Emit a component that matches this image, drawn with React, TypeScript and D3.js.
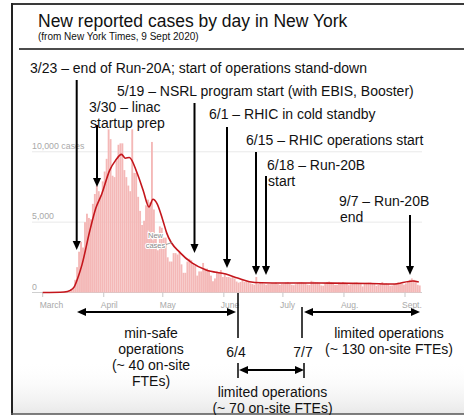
import React from "react";
import * as d3 from "d3";

const W = 464;
const H = 415;

// ---- Data ----
const startDate = "2020-03-01";
const marchCases = [0, 1, 1, 9, 11, 22, 33, 13, 36, 32, 43, 112, 95, 110, 198, 299, 900, 1800, 2900, 3600, 3200, 5000, 5600, 5300, 5200, 6300, 7000, 7600, 7200, 6900, 7900];
const aprilCases = [8600, 9500, 11600, 10900, 8300, 8200, 9400, 10500, 10600, 10600, 8700, 8200, 7600, 7200, 11600, 8500, 8500, 6800, 5800, 4800, 5100, 6200, 6600, 6400, 10700, 5900, 3900, 3000, 4700, 4600];
const mayCases = [3900, 3900, 2500, 2200, 2200, 2800, 2800, 2700, 2900, 2000, 1400, 1400, 2200, 2400, 2300, 2000, 1900, 1200, 1500, 1500, 2100, 1700, 1700, 1600, 1200, 800, 1000, 1500, 1400, 1600, 1100];
const juneCases = [1300, 1100, 1100, 1050, 1100, 1000, 780, 700, 750, 900, 750, 800, 800, 650, 600, 550, 1100, 600, 700, 650, 600, 550, 600, 600, 650, 650, 700, 600, 550, 600];
const julyCases = [620, 700, 750, 650, 550, 520, 590, 700, 730, 750, 700, 680, 560, 530, 830, 770, 750, 740, 700, 500, 480, 640, 750, 780, 700, 650, 540, 540, 700, 650, 750];
const augCases = [700, 680, 520, 580, 640, 700, 720, 680, 600, 430, 600, 690, 710, 720, 680, 600, 470, 540, 620, 750, 630, 660, 610, 480, 500, 600, 650, 720, 630, 620, 560];
const septCases = [650, 800, 900, 1000, 900, 800, 550, 500];

const avgDates = ["2020-03-01", "2020-03-12", "2020-03-15", "2020-03-17", "2020-03-19", "2020-03-21", "2020-03-25", "2020-03-28", "2020-03-31", "2020-04-04", "2020-04-07", "2020-04-10", "2020-04-12", "2020-04-14", "2020-04-18", "2020-04-21", "2020-04-24", "2020-04-26", "2020-04-28", "2020-05-01", "2020-05-03", "2020-05-10", "2020-05-16", "2020-05-23", "2020-06-02", "2020-06-08", "2020-06-14", "2020-06-20", "2020-07-01", "2020-07-20", "2020-08-14", "2020-08-26", "2020-09-05", "2020-09-08"];
const avgValues = [0, 40, 150, 400, 1100, 2000, 4430, 6000, 7000, 8680, 9390, 9820, 9540, 9600, 8470, 7270, 6080, 6630, 6340, 5140, 4220, 2800, 2090, 1600, 1310, 1030, 770, 690, 670, 670, 640, 600, 820, 750];

const monthTicks = ["2020-03-01", "2020-04-01", "2020-05-01", "2020-06-01", "2020-07-01", "2020-08-01", "2020-09-01"];
const monthLabels = ["March", "April", "May", "June", "July", "Aug.", "Sept."];
const yTicks = [0, 5000, 10000];
const yTickLabels = ["0", "5,000", "10,000 cases"];

// ---- Annotation layout ----
const FONT = "'Liberation Sans', Arial, Helvetica, sans-serif";
const topNotes = [
  { x: 30, y: 73, lines: ["3/23 \u2013 end of Run-20A; start of operations stand-down"] },
  { x: 117, y: 96, lines: ["5/19 \u2013 NSRL program start (with EBIS, Booster)"] },
  { x: 89, y: 112, lines: ["3/30 \u2013 linac", "startup prep"] },
  { x: 209, y: 119, lines: ["6/1 \u2013 RHIC in cold standby"] },
  { x: 246, y: 145, lines: ["6/15 \u2013 RHIC operations start"] },
  { x: 267, y: 170, lines: ["6/18 \u2013 Run-20B", "start"] },
  { x: 339, y: 206, lines: ["9/7 \u2013 Run-20B", "end"] },
];
const vArrows = [
  { x: 76.7, y1: 80, y2: 250 },
  { x: 97, y1: 125, y2: 187 },
  { x: 194.5, y1: 103, y2: 253 },
  { x: 227, y1: 127, y2: 268 },
  { x: 256, y1: 152, y2: 275 },
  { x: 266, y1: 176, y2: 275 },
  { x: 410, y1: 215, y2: 275 },
];
const hArrows = [
  { x1: 77, x2: 236, y: 312 },
  { x1: 239, x2: 304, y: 370 },
  { x1: 304, x2: 420, y: 312 },
];
const separators = [
  { x: 238, y1: 293, y2: 338 },
  { x: 238, y1: 363, y2: 378 },
  { x: 304, y1: 363, y2: 378 },
  { x: 302, y1: 307, y2: 338 },
];
const bottomNotes = [
  { x: 151, y: 337.5, lines: ["min-safe", "operations", "(~ 40 on-site", "FTEs)"] },
  { x: 389, y: 337.5, lines: ["limited operations", "(~ 130 on-site FTEs)"] },
  { x: 236, y: 356.5, lines: ["6/4"] },
  { x: 303, y: 356.5, lines: ["7/7"] },
  { x: 272.5, y: 397, lines: ["limited operations", "(~ 70 on-site FTEs)"] },
];

const parse = d3.utcParse("%Y-%m-%d");

export default function App() {
  const x = d3.scaleUtc().domain([parse("2020-03-01")!, parse("2020-09-01")!]).range([42.7, 405]);
  const y = d3.scaleLinear().domain([0, 10000]).range([292.5, 151.8]);
  const start = parse(startDate)!;
  const daily = [...marchCases, ...aprilCases, ...mayCases, ...juneCases, ...julyCases, ...augCases, ...septCases];
  const bars = daily.map((v, i) => {
    const d0 = d3.utcDay.offset(start, i);
    const d1 = d3.utcDay.offset(start, i + 1);
    return { x0: x(d0), x1: x(d1), v };
  });
  const avg = avgDates.map((d, i) => [x(parse(d)!), y(avgValues[i])] as [number, number]);
  const linePath = d3.line().curve(d3.curveMonotoneX)(avg) || "";

  const head = 4;
  const headLen = 9;

  return (
    <svg width={W} height={H} viewBox={`0 0 ${W} ${H}`} style={{ position: "fixed", left: 0, top: 0, background: "#fff" }} fontFamily={FONT}>
      <defs>
        <linearGradient id="smudge" x1="0" y1="0" x2="0" y2="1">
          <stop offset="0" stopColor="#ffffff" stopOpacity="0" />
          <stop offset="1" stopColor="#e6e6e6" stopOpacity="0.9" />
        </linearGradient>
      </defs>
      <rect x={0} y={0} width={W} height={H} fill="#fff" />
      <rect x={12} y={360} width={W - 12} height={54} fill="url(#smudge)" />

      {/* frame */}
      <line x1={11} x2={W} y1={4} y2={4} stroke="#3a3a3a" strokeWidth={2} />
      <line x1={12} x2={12} y1={3} y2={H} stroke="#222" strokeWidth={2} />
      <line x1={11} x2={W} y1={414} y2={414} stroke="#555" strokeWidth={1.5} />
      <line x1={19} x2={W} y1={49} y2={49} stroke="#111" strokeWidth={1.6} />

      {/* title */}
      <text x={38} y={26.5} fontSize={17.5} fill="#111">New reported cases by day in New York</text>
      <text x={38} y={39.5} fontSize={10} fill="#111">(from New York Times, 9 Sept 2020)</text>

      {/* gridlines + y labels */}
      {yTicks.map((t, i) => (
        <g key={t}>
          <line x1={32} x2={422} y1={y(t)} y2={y(t)} stroke={t === 0 ? "#cfcfcf" : "#e9e9e9"} strokeWidth={1} />
          <text x={32} y={y(t) - 3} fontSize={8.8} fill="#a9a9a9">{yTickLabels[i]}</text>
        </g>
      ))}

      {/* bars */}
      {bars.map((b, i) => (
        <rect key={i} x={b.x0} y={y(b.v)} width={Math.max(0.5, b.x1 - b.x0 - 0.1)} height={y(0) - y(b.v)} fill="#f4b8b7" />
      ))}

      {/* month ticks */}
      {monthTicks.map((m, i) => {
        const px = x(parse(m)!);
        return (
          <g key={m}>
            <line x1={px} x2={px} y1={292.5} y2={297} stroke="#c8c8c8" strokeWidth={1} />
            <text x={px - 3} y={308} fontSize={8.5} fill="#a9a9a9">{monthLabels[i]}</text>
          </g>
        );
      })}

      {/* 7-day average line */}
      <path d={linePath} fill="none" stroke="#c4161c" strokeWidth={1.6} strokeLinejoin="round" />

      {/* New cases label */}
      <g fontSize={7.5} fill="#888" textAnchor="middle" stroke="#fff" strokeWidth={2} paintOrder="stroke">
        <text x={155.5} y={238}>New</text>
        <text x={155.5} y={248}>cases</text>
      </g>
      <line x1={166} y1={244.5} x2={172} y2={242.5} stroke="#888" strokeWidth={0.8} />

      {/* top annotations */}
      {topNotes.map((n, i) => (
        <text key={i} x={n.x} y={n.y} fontSize={14} fill="#111">
          {n.lines.map((l, j) => (
            <tspan key={j} x={j === 0 ? n.x : n.x + 1} dy={j === 0 ? 0 : 16}>{l}</tspan>
          ))}
        </text>
      ))}
      {vArrows.map((a, i) => (
        <g key={i}>
          <line x1={a.x} x2={a.x} y1={a.y1} y2={a.y2 - headLen + 1} stroke="#000" strokeWidth={2} />
          <polygon points={`${a.x - head},${a.y2 - headLen} ${a.x + head},${a.y2 - headLen} ${a.x},${a.y2}`} fill="#000" />
        </g>
      ))}

      {/* bottom annotations */}
      {hArrows.map((a, i) => (
        <g key={i}>
          <line x1={a.x1 + headLen - 1} x2={a.x2 - headLen + 1} y1={a.y} y2={a.y} stroke="#000" strokeWidth={2} />
          <polygon points={`${a.x1},${a.y} ${a.x1 + headLen},${a.y - head} ${a.x1 + headLen},${a.y + head}`} fill="#000" />
          <polygon points={`${a.x2},${a.y} ${a.x2 - headLen},${a.y - head} ${a.x2 - headLen},${a.y + head}`} fill="#000" />
        </g>
      ))}
      {separators.map((s, i) => (
        <line key={i} x1={s.x} x2={s.x} y1={s.y1} y2={s.y2} stroke="#000" strokeWidth={1.5} />
      ))}
      {bottomNotes.map((n, i) => (
        <text key={i} x={n.x} y={n.y} fontSize={14} fill="#111" textAnchor="middle">
          {n.lines.map((l, j) => (
            <tspan key={j} x={n.x} dy={j === 0 ? 0 : 16.3}>{l}</tspan>
          ))}
        </text>
      ))}
    </svg>
  );
}
